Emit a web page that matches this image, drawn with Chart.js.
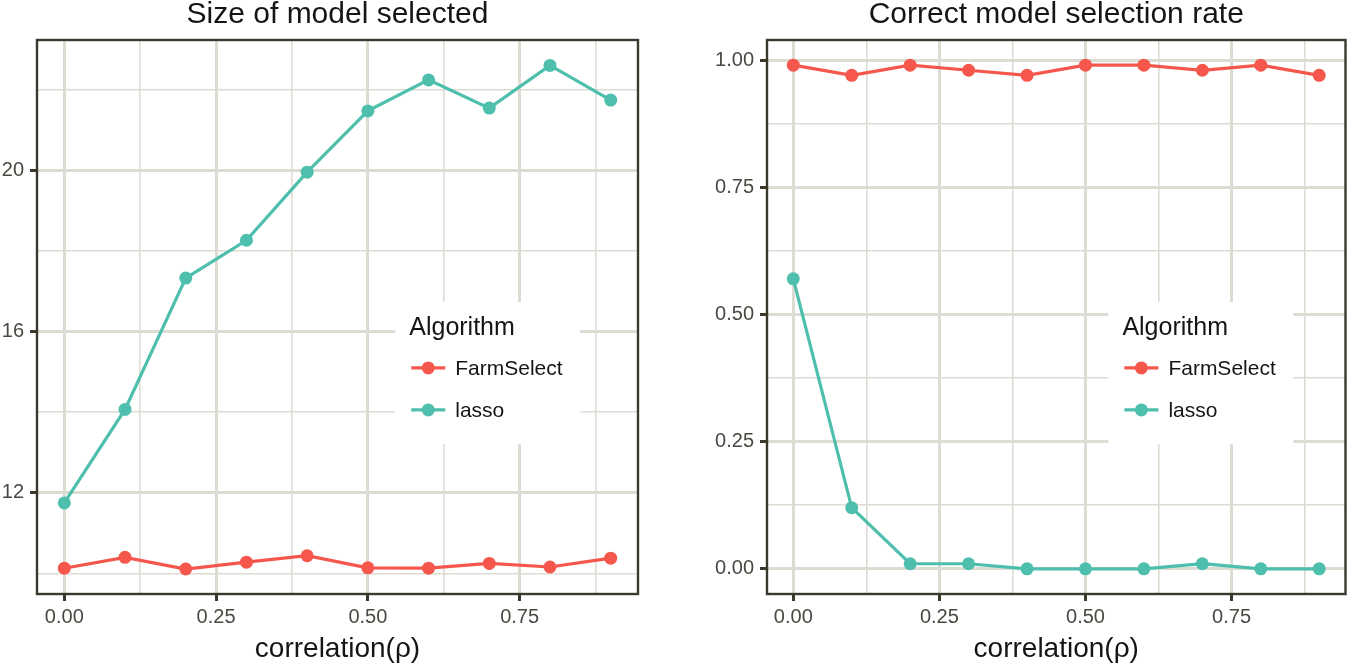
<!DOCTYPE html>
<html>
<head>
<meta charset="utf-8">
<script src="https://cdn.jsdelivr.net/npm/chart.js@4.4.1/dist/chart.umd.min.js"></script>
<style>
  body { margin: 0; background: #fff; }
  #left { position: absolute; left: 0; top: 0; }
  #right { position: absolute; left: 660px; top: 0; }
</style>
</head>
<body>
<canvas id="left" width="660" height="666"></canvas>
<canvas id="right" width="692" height="666"></canvas>
<script>
// data
const rho = [0, 0.1, 0.2, 0.3, 0.4, 0.5, 0.6, 0.7, 0.8, 0.9];
const sizeFarm = [10.13, 10.40, 10.11, 10.28, 10.44, 10.14, 10.13, 10.25, 10.16, 10.38];
const sizeLasso = [11.75, 14.07, 17.33, 18.27, 19.96, 21.48, 22.25, 21.55, 22.61, 21.75];
const rateFarm = [0.99, 0.97, 0.99, 0.98, 0.97, 0.99, 0.99, 0.98, 0.99, 0.97];
const rateLasso = [0.57, 0.12, 0.01, 0.01, 0, 0, 0, 0.01, 0, 0];

const xTicks = [0, 0.25, 0.5, 0.75];
const xMinor = [0.125, 0.375, 0.625, 0.875];
const sizeTicks = [12, 16, 20];
const sizeMinor = [10, 14, 18, 22];
const rateTicks = [0, 0.25, 0.5, 0.75, 1];
const rateMinor = [0.125, 0.375, 0.625, 0.875];

const seriesNames = ['FarmSelect', 'lasso'];
const colors = ['#F5574C', '#4DBFAC'];
const legendTitle = 'Algorithm';

const FONT = '"Liberation Sans", Arial, Helvetica, sans-serif';
const gridColor = '#DDDCD3';
const frameColor = '#3B382D';
const tickText = '#4A4840';

function pts(ys) {
  return rho.map((x, i) => ({ x: x, y: ys[i] }));
}

function makeDataset(i, ys) {
  return {
    label: seriesNames[i],
    data: pts(ys),
    borderColor: colors[i],
    backgroundColor: colors[i],
    borderWidth: 3.2,
    pointRadius: 6.5,
    pointBorderWidth: 0,
    pointBackgroundColor: colors[i],
    tension: 0
  };
}

// panel frame (theme_bw style border)
const frame = {
  id: 'frame',
  beforeDatasetsDraw(chart) {
    const { ctx, chartArea: a } = chart;
    ctx.save();
    ctx.strokeStyle = frameColor;
    ctx.lineWidth = 2.4;
    ctx.strokeRect(a.left, a.top, a.width, a.height);
    ctx.restore();
  }
};

// legend drawn inside the panel
const insideLegend = {
  id: 'insideLegend',
  afterDraw(chart) {
    const { ctx, chartArea: a } = chart;
    const w = 185, h = 142;
    const x0 = a.left + a.width * 0.75 - w / 2;
    const y0 = a.top + a.height * 0.601 - h / 2;
    ctx.save();
    ctx.fillStyle = '#fff';
    ctx.fillRect(x0, y0, w, h);
    ctx.fillStyle = '#151515';
    ctx.textBaseline = 'alphabetic';
    ctx.textAlign = 'left';
    ctx.font = '25px ' + FONT;
    ctx.fillText(legendTitle, x0 + 14, y0 + 33);
    chart.data.datasets.forEach((ds, i) => {
      const cy = y0 + 66 + i * 42;
      ctx.strokeStyle = ds.borderColor;
      ctx.lineWidth = 3.2;
      ctx.beginPath();
      ctx.moveTo(x0 + 16, cy);
      ctx.lineTo(x0 + 50, cy);
      ctx.stroke();
      ctx.fillStyle = ds.borderColor;
      ctx.beginPath();
      ctx.arc(x0 + 33, cy, 6.5, 0, Math.PI * 2);
      ctx.fill();
      ctx.fillStyle = '#151515';
      ctx.font = '21px ' + FONT;
      ctx.fillText(ds.label, x0 + 60, cy + 7.5);
    });
    ctx.restore();
  }
};

function axisGrid(majors) {
  return {
    color: gridColor,
    lineWidth: c => (c.tick && majors.includes(c.tick.value)) ? 3 : 1.6,
    tickLength: 7,
    tickWidth: 3,
    tickColor: c => (c.tick && majors.includes(c.tick.value)) ? frameColor : 'rgba(0,0,0,0)'
  };
}

function makeChart(id, title, dsA, dsB, yMin, yMax, yMajor, yMinorVals, yFmt, yWidth, padRight) {
  return new Chart(document.getElementById(id), {
    type: 'line',
    data: { datasets: [makeDataset(0, dsA), makeDataset(1, dsB)] },
    plugins: [frame, insideLegend],
    options: {
      responsive: false,
      animation: false,
      devicePixelRatio: 1,
      layout: { padding: { left: 0, right: padRight, top: 0, bottom: 0 } },
      plugins: {
        legend: { display: false },
        tooltip: { enabled: false },
        title: {
          display: true,
          text: title,
          fullSize: false,
          color: '#151515',
          font: { family: FONT, size: 30, weight: 'normal', lineHeight: 1.0 },
          padding: { top: 0, bottom: 10 }
        }
      },
      scales: {
        x: {
          type: 'linear',
          min: -0.045,
          max: 0.945,
          afterBuildTicks: s => { s.ticks = xTicks.concat(xMinor).sort((p, q) => p - q).map(v => ({ value: v })); },
          afterFit: s => { s.height = 72; },
          border: { display: false },
          grid: axisGrid(xTicks),
          ticks: {
            autoSkip: false,
            maxRotation: 0,
            padding: 4,
            color: tickText,
            font: { family: FONT, size: 20 },
            callback: v => xTicks.includes(v) ? v.toFixed(2) : ''
          },
          title: {
            display: true,
            text: 'correlation(ρ)',
            color: '#151515',
            font: { family: FONT, size: 28, lineHeight: 1.1 },
            padding: { top: 0, bottom: 1 }
          }
        },
        y: {
          type: 'linear',
          min: yMin,
          max: yMax,
          afterBuildTicks: s => { s.ticks = yMajor.concat(yMinorVals).sort((p, q) => p - q).map(v => ({ value: v })); },
          afterFit: s => { s.width = yWidth; },
          border: { display: false },
          grid: axisGrid(yMajor),
          ticks: {
            autoSkip: false,
            padding: 6,
            color: tickText,
            font: { family: FONT, size: 20 },
            callback: v => yMajor.includes(v) ? yFmt(v) : ''
          }
        }
      }
    }
  });
}

makeChart('left', 'Size of model selected', sizeFarm, sizeLasso,
  9.49, 23.24, sizeTicks, sizeMinor, v => String(v), 37, 22);
makeChart('right', 'Correct model selection rate', rateFarm, rateLasso,
  -0.0495, 1.0395, rateTicks, rateMinor, v => v.toFixed(2), 107, 1);
</script>
</body>
</html>
